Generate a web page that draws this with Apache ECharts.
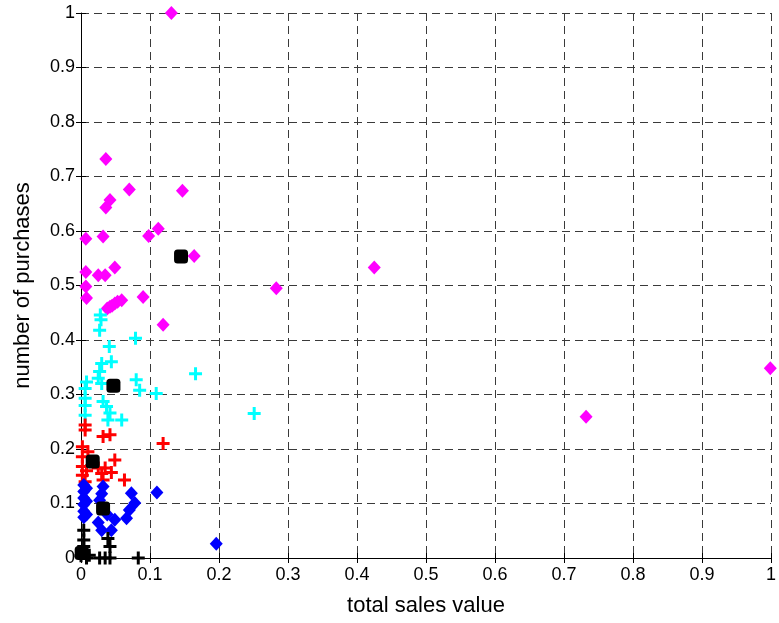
<!DOCTYPE html>
<html>
<head>
<meta charset="utf-8">
<script src="https://cdn.jsdelivr.net/npm/echarts@6/dist/echarts.min.js"></script>
<style>
  html, body { margin: 0; padding: 0; background: #fff; }
  #main { width: 779px; height: 623px; }
</style>
</head>
<body>
<div id="main"></div>
<script>
// cluster members, [total sales value, number of purchases]
var magentaPts = [
  [0.131, 1.0], [0.036, 0.732], [0.070, 0.676], [0.147, 0.674], [0.042, 0.657],
  [0.036, 0.643], [0.007, 0.586], [0.032, 0.590], [0.098, 0.591], [0.112, 0.604],
  [0.164, 0.554], [0.007, 0.525], [0.025, 0.519], [0.035, 0.519], [0.049, 0.533],
  [0.007, 0.498], [0.008, 0.477], [0.038, 0.458], [0.042, 0.461], [0.045, 0.463],
  [0.049, 0.467], [0.053, 0.470], [0.059, 0.473], [0.090, 0.479], [0.119, 0.428],
  [0.283, 0.495], [0.425, 0.533], [0.732, 0.259], [0.999, 0.348]
];
var cyanPts = [
  [0.028, 0.446], [0.029, 0.437], [0.027, 0.418], [0.041, 0.388], [0.079, 0.403],
  [0.030, 0.357], [0.044, 0.360], [0.027, 0.342], [0.008, 0.323], [0.006, 0.311],
  [0.025, 0.330], [0.030, 0.320], [0.080, 0.327], [0.085, 0.308], [0.109, 0.302],
  [0.006, 0.293], [0.006, 0.280], [0.006, 0.262], [0.032, 0.287], [0.037, 0.278],
  [0.042, 0.266], [0.039, 0.253], [0.059, 0.253], [0.166, 0.338], [0.251, 0.265]
];
var redPts = [
  [0.006, 0.244], [0.006, 0.235], [0.032, 0.223], [0.042, 0.226], [0.119, 0.210],
  [0.002, 0.204], [0.010, 0.195], [0.002, 0.186], [0.002, 0.168], [0.008, 0.160],
  [0.002, 0.152], [0.006, 0.140], [0.049, 0.180], [0.044, 0.157], [0.030, 0.155],
  [0.025, 0.165], [0.035, 0.165], [0.032, 0.143], [0.063, 0.143]
];
var bluePts = [
  [0.004, 0.134], [0.004, 0.122], [0.004, 0.110], [0.004, 0.098], [0.004, 0.086],
  [0.004, 0.075], [0.008, 0.128], [0.008, 0.104], [0.008, 0.080], [0.032, 0.131],
  [0.030, 0.118], [0.027, 0.106], [0.073, 0.119], [0.078, 0.101], [0.070, 0.088],
  [0.066, 0.073], [0.049, 0.070], [0.038, 0.080], [0.025, 0.065], [0.030, 0.051],
  [0.044, 0.051], [0.110, 0.120], [0.196, 0.026]
];
var blackPts = [
  [0.004, 0.051], [0.004, 0.033], [0.004, 0.021], [0.004, 0.009], [0.000, 0.004],
  [0.012, 0.005], [0.008, 0.000], [0.039, 0.036], [0.042, 0.021], [0.027, 0.000],
  [0.035, 0.000], [0.042, 0.000], [0.083, 0.000]
];
var centroids = [
  [0.145, 0.553], [0.047, 0.316], [0.017, 0.177], [0.032, 0.091], [0.001, 0.009]
];

var xTitle = 'total sales value';
var yTitle = 'number of purchases';

var plusPath = 'path://M5,0H8V5H13V8H8V13H5V8H0V5H5Z';
var font = 'Liberation Sans, Arial, sans-serif';

var myChart = echarts.init(document.getElementById('main'));

var gridLine = { show: true, lineStyle: { color: '#3a3a3a', type: [8, 5], width: 1 } };

function fmt(v) { return v === 0 || v === 1 ? String(v) : v.toFixed(1); }

var option = {
  backgroundColor: '#fff',
  animation: false,
  grid: { left: 81, top: 13, right: 4, bottom: 65 },
  xAxis: [{
    type: 'value', min: 0, max: 1, interval: 0.1,
    name: xTitle, nameLocation: 'middle', nameGap: 37,
    nameTextStyle: { fontFamily: font, fontSize: 22, color: '#000' },
    axisLine: { show: true, onZero: false, lineStyle: { color: '#000', width: 1 } },
    axisTick: { show: true, inside: true, length: 5, lineStyle: { color: '#000' } },
    axisLabel: { fontFamily: font, fontSize: 18, color: '#000', margin: 8, formatter: fmt },
    splitLine: gridLine
  }, {
    type: 'value', min: 0, max: 1, interval: 0.1, position: 'top',
    axisLine: { show: false },
    axisTick: { show: true, inside: true, length: 5, lineStyle: { color: '#000' } },
    axisLabel: { show: false }, splitLine: { show: false }
  }],
  yAxis: [{
    type: 'value', min: 0, max: 1, interval: 0.1,
    name: yTitle, nameLocation: 'middle', nameGap: 47,
    nameTextStyle: { fontFamily: font, fontSize: 22, color: '#000' },
    axisLine: { show: true, onZero: false, lineStyle: { color: '#000', width: 1 } },
    axisTick: { show: true, inside: true, length: 5, lineStyle: { color: '#000' } },
    axisLabel: { fontFamily: font, fontSize: 18, color: '#000', margin: 6, formatter: fmt },
    splitLine: gridLine
  }, {
    type: 'value', min: 0, max: 1, interval: 0.1, position: 'right',
    axisLine: { show: false },
    axisTick: { show: true, inside: true, length: 5, lineStyle: { color: '#000' } },
    axisLabel: { show: false }, splitLine: { show: false }
  }],
  series: [
    { type: 'scatter', data: magentaPts, symbol: 'diamond', symbolSize: [13, 14],
      itemStyle: { color: '#ff00ff', opacity: 1 } },
    { type: 'scatter', data: cyanPts, symbol: plusPath, symbolSize: 13,
      itemStyle: { color: '#00ffff', opacity: 1 } },
    { type: 'scatter', data: redPts, symbol: plusPath, symbolSize: 13,
      itemStyle: { color: '#ff0000', opacity: 1 } },
    { type: 'scatter', data: bluePts, symbol: 'diamond', symbolSize: [13, 14],
      itemStyle: { color: '#0000ff', opacity: 1 } },
    { type: 'scatter', data: blackPts, symbol: plusPath, symbolSize: 13,
      itemStyle: { color: '#000', opacity: 1 } },
    { type: 'scatter', data: centroids, symbol: 'roundRect', symbolSize: 14,
      itemStyle: { color: '#000', opacity: 1 }, z: 5 }
  ]
};

myChart.setOption(option);
</script>
</body>
</html>
